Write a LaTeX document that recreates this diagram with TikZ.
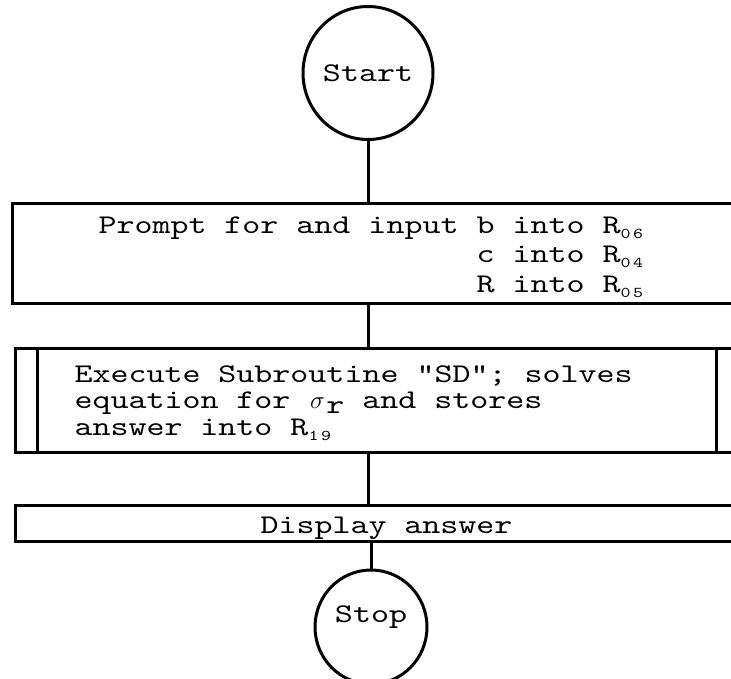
\documentclass[tikz,border=0pt]{standalone}
\usepackage{fontspec}
\setmonofont{lmmono10-regular.otf}[FakeStretch=1.27]
\usetikzlibrary{shapes.geometric}
\newcommand{\regsub}[1]{\raisebox{-0.45ex}{\fontsize{15}{15}\selectfont #1}}
\newcommand{\lowr}{\raisebox{-0.4ex}{r}}
\newcommand{\sig}{\makebox[17.9pt]{$\sigma$}}

\begin{document}
\begin{tikzpicture}[x=1pt, y=-1pt, line width=3pt,
		every node/.style={font=\ttfamily\fontsize{27}{29.5}\selectfont},
		term/.style={draw, ellipse, inner sep=0pt},
		stepbox/.style={draw, rectangle, inner sep=0pt},
		txt/.style={anchor=base west, align=left, inner sep=0pt}]
	\useasboundingbox (0,0) rectangle (731,678);
	\clip (0,0) rectangle (731,678);

	\node[term, minimum width=130pt, minimum height=133pt] (start) at (368,73) {Start};

	\node[stepbox, minimum width=733pt, minimum height=100pt] (prompt) at (378.5,253) {};
	\node[txt] (prompttxt) at (97,292) {Prompt for and input b into R\regsub{0\,6}\\
		\hphantom{Prompt for and input }c into R\regsub{0\,4}\\
		\hphantom{Prompt for and input }R into R\regsub{0\,5}};

	\node[stepbox, minimum width=724pt, minimum height=104pt] (sub) at (377,400) {};
	\draw ([xshift=24pt]sub.north west) -- ([xshift=24pt]sub.south west);
	\draw ([xshift=-24pt]sub.north east) -- ([xshift=-24pt]sub.south east);
	\node[txt, font=\ttfamily\fontsize{27}{26.5}\selectfont] (subtxt) at (73,435) {Execute Subroutine "SD"; solves\\
		equation for \sig\lowr\ and stores\\
		answer into R\regsub{1\,9}};

	\node[stepbox, minimum width=730pt, minimum height=36pt] (disp) at (380,523) {};
	\node[txt] (disptxt) at (259,533) {Display answer};

	\node[term, minimum width=112pt, minimum height=114pt, label={[yshift=10pt]center:Stop}] (stop) at (371,627) {};

	\draw (start) -- (start |- prompt.north);
	\draw (prompt.south -| start) -- (sub.north -| start);
	\draw (sub.south -| start) -- (disp.north -| start);
	\draw (disp.south -| stop) -- (stop);
\end{tikzpicture}
\end{document}
